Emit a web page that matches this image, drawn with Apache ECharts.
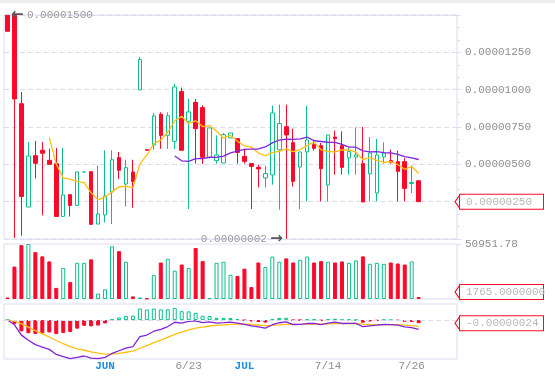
<!DOCTYPE html>
<html>
<head>
<meta charset="utf-8">
<script src="https://cdn.jsdelivr.net/npm/echarts@6/dist/echarts.min.js"></script>
<style>
html,body{margin:0;padding:0;background:#fff;}
#chart{width:555px;height:376px;}
#topbar{position:absolute;left:0;top:0;width:555px;height:3px;background:#ededed;}
</style>
</head>
<body>
<div id="chart"></div>
<div id="topbar"></div>
<script>
// prices are kept in units of 0.00000001
var opens  = [1498,1498,906,214,558,594,527,504,151,297, 225,449,451,100,161,315,545,368,449,998,
              598,630,835,694,654,987,788,915,880,547, 525,509,677,672,553,505,480,409,429,597,
              752,645,482,583,632,625,362,683,625,543, 549,505,436,308,549,525,518,518,372,390];
var closes = [1391,938,285,556,507,574,500,151,295,225, 449,449,98,168,288,531,460,478,386,1202,
              594,824,694,826,1018,594,851,739,547,744, 563,699,710,580,520,486,469,438,844,773,
              697,386,583,663,607,471,697,672,480,585, 563,248,576,563,576,513,453,339,378,250];
var highs  = [1500,1500,985,650,657,650,605,610,610,297, 449,449,451,491,594,594,583,531,531,1219,
              598,844,848,848,1040,1014,938,938,895,744, 694,710,710,672,605,505,498,491,893,900,
              900,739,583,893,665,643,697,726,721,610, 748,750,683,670,647,598,592,543,493,390];
var lows   = [1391,7,22,214,406,158,500,151,151,151, 225,449,98,100,111,100,402,218,210,998,
              594,598,603,603,603,594,201,505,502,540, 505,509,677,505,505,201,346,346,364,196,
              2,352,201,252,592,252,252,431,431,431, 431,248,252,252,505,505,252,252,308,250];
var volumes = [1400,30000,49900,50951.78,43400,39500,34800,10300,28800,15700,
               33500,33500,36700,5000,9000,48800,44300,34500,2400,1400,
               500,22100,33800,37300,26200,31900,28800,47200,35100,800,
               33500,34500,22400,21400,28100,11000,33800,29700,39300,34500,
               37600,33800,36400,39300,33800,35100,34500,33800,34800,33500,
               35700,39500,32600,33500,32600,33800,32900,31900,34800,1765];
var ma7 = [null,null,null,null,null,null,678.7,501.6,409.7,401.1,
           385.9,377.6,309.6,262.1,281.7,315.4,349.0,353.1,344.1,501.9,
           562.7,639.3,662.6,714.9,792.0,821.7,771.6,792.3,752.7,759.9,
           722.3,676.7,693.3,654.6,623.3,614.6,575.3,557.4,578.1,587.1,
           603.9,584.7,598.6,626.3,650.4,597.1,586.3,582.7,596.1,596.4,
           582.1,530.9,545.9,526.7,513.0,517.7,498.9,466.9,485.4,438.9];
var ma25 = [null,null,null,null,null,null,null,null,null,null,
            null,null,null,null,null,null,null,null,null,null,
            null,null,null,null,555.5,523.6,520.1,538.3,537.9,547.4,
            547.0,554.9,577.3,588.7,600.5,602.0,602.8,616.4,643.4,662.8,
            669.4,666.5,670.7,681.8,658.0,653.0,648.0,647.1,633.2,615.9,
            614.7,590.6,584.0,584.7,578.0,576.0,566.1,551.3,543.2,532.4];
var dif = [0,-36.1,-116.1,-155.9,-189.1,-207.7,-225.8,-265.2,-281.6,-296.8,
           -287.5,-276.9,-293.4,-297.4,-287.7,-257.3,-236.3,-215.7,-204.4,-128.1,
           -115.4,-85.8,-72.0,-49.9,-16.6,-24.2,-9.3,-6.5,-19.6,-13.9,
           -23.7,-20.3,-16.5,-23.7,-33.8,-44.1,-53.0,-61.9,-35.7,-20.5,
           -14.4,-34.2,-33.7,-26.5,-25.0,-34.5,-23.4,-16.5,-26.2,-25.1,
           -25.7,-51.1,-44.2,-39.3,-34.0,-34.5,-39.2,-51.6,-57.6,-71.9];
var dea = [0,-7.2,-29.0,-54.4,-81.3,-106.6,-130.4,-157.4,-182.2,-205.1,
           -221.6,-232.6,-244.8,-255.3,-261.8,-260.9,-256.0,-247.9,-239.2,-217.0,
           -196.7,-174.5,-154.0,-133.2,-109.9,-92.7,-76.1,-62.2,-53.6,-45.7,
           -41.3,-37.1,-33.0,-31.1,-31.6,-34.1,-37.9,-42.7,-41.3,-37.1,
           -32.6,-32.9,-33.1,-31.8,-30.4,-31.2,-29.7,-27.0,-26.9,-26.5,
           -26.4,-31.3,-33.9,-34.9,-34.8,-34.7,-35.6,-38.8,-42.6,-48.4];
var macdHist = [0,-28.9,-87.1,-101.5,-107.8,-101.1,-95.3,-107.8,-99.4,-91.7,
                -65.9,-44.2,-48.6,-42.1,-25.9,3.6,19.7,32.3,34.8,88.9,
                81.3,88.7,82.0,83.3,93.3,68.6,66.7,55.6,34.1,31.8,
                17.6,16.8,16.5,7.4,-2.2,-10.0,-15.1,-19.2,5.6,16.7,
                18.2,-1.3,-0.6,5.3,5.4,-3.2,6.3,10.6,0.7,1.4,
                0.6,-19.8,-10.3,-4.3,0.8,0.2,-3.6,-12.8,-15.1,-24.0];
// x tick labels by candle position
var tickLabels = {14:'JUN', 26:'6/23', 34:'JUL', 46:'7/14', 58:'7/26'};
var monthLabels = ['JUN', 'JUL'];
var SLOTS = 65; // 60 candles + empty room on the right

var GREEN = '#0cbf8a', RED = '#fa0a2a', GRIDC = '#dcdcf0', TXT = '#8e8e8e';
var YELLOW = '#ffbf10', PURPLE = '#8224d8';
var MONO = '"Liberation Mono","DejaVu Sans Mono",monospace';
var NOLINE = 'rgba(0,0,0,0)';

function price(v){ return (v * 1e-8).toFixed(8); }

var categories = [];
for (var i = 0; i < SLOTS; i++) categories.push(String(i));

// candle direction, also used to colour volume bars
var rising = closes.map(function(c, i){
	if (c !== opens[i]) return c > opens[i];
	return i === 0 || c >= closes[i-1];
});

var candles = opens.map(function(o, i){ return [o, closes[i], lows[i], highs[i]]; });

var volData = volumes.map(function(v, i){
	var up = rising[i];
	return {value: v, itemStyle: {color: up ? '#fff' : RED, borderColor: up ? GREEN : RED, borderWidth: 1}};
});
var histData = macdHist.map(function(v){
	var up = v >= 0;
	return {value: v, itemStyle: {color: up ? '#fff' : RED, borderColor: up ? GREEN : RED, borderWidth: 1}};
});

var volMax = Math.max.apply(null, volumes);

// red bordered "last value" tag on the right axis
function tag(fmt, dy){
	return {
		show: true, position: 'end', distance: 3, offset: [0, dy || 0],
		formatter: fmt,
		color: '#b8b8b8', fontFamily: MONO, fontSize: 11, lineHeight: 12,
		backgroundColor: '#fff', borderColor: RED, borderWidth: 1,
		padding: [1, 6, 1, 6], width: 71
	};
}
// little pointed end on the left of the tag
function notch(val, dy){
	return {
		coord: [String(SLOTS - 1), val],
		symbol: 'path://M5,0 L0,7 L5,14 Z', symbolSize: [5, 14], symbolOffset: [4, dy || 0],
		itemStyle: {color: '#fff', borderColor: RED, borderWidth: 1},
		label: {show: false}
	};
}

var grids = [
	{left: 4, right: 98, top: 15, height: 224},
	{left: 4, right: 98, top: 244, height: 55},
	{left: 4, right: 98, top: 304, height: 55}
].map(function(g){ g.show = true; g.borderColor = GRIDC; g.borderWidth = 1; return g; });

var xAxes = [0, 1, 2].map(function(g){
	return {
		type: 'category', gridIndex: g, data: categories, boundaryGap: true,
		axisLine: {show: false}, axisTick: {show: false}, splitLine: {show: false},
		axisLabel: {
			show: g === 2, margin: 2, fontFamily: MONO, fontSize: 11,
			interval: function(idx){ return tickLabels[idx] !== undefined; },
			formatter: function(val, idx){
				var t = tickLabels[idx];
				if (t === undefined) return '';
				return monthLabels.indexOf(t) >= 0 ? '{m|' + t + '}' : '{d|' + t + '}';
			},
			rich: {
				m: {color: '#1e8ee8', fontWeight: 'bold', fontFamily: MONO, fontSize: 11},
				d: {color: TXT, fontFamily: MONO, fontSize: 11}
			}
		}
	};
});

var yAxes = [
	{
		gridIndex: 0, position: 'right', min: 0, max: 1500, interval: 250,
		axisLine: {show: false},
		axisTick: {show: true, length: 4, lineStyle: {color: GRIDC}},
		minorTick: {show: true, splitNumber: 3, length: 3, lineStyle: {color: GRIDC}},
		splitLine: {show: true, lineStyle: {color: GRIDC, type: [5, 3]}},
		axisLabel: {
			margin: 8, color: TXT, fontFamily: MONO, fontSize: 11,
			formatter: function(v){ return (v === 0 || v === 250 || v === 1500) ? '' : price(v); }
		}
	},
	{
		gridIndex: 1, position: 'right', min: 0, max: volMax, interval: volMax,
		axisLine: {show: false}, splitLine: {show: false},
		axisTick: {show: true, length: 4, lineStyle: {color: GRIDC}},
		axisLabel: {
			margin: 8, color: TXT, fontFamily: MONO, fontSize: 11, showMinLabel: false,
			formatter: function(v){ return v === 0 ? '' : v.toFixed(2); }
		}
	},
	{
		gridIndex: 2, position: 'right', min: -300, max: 124,
		axisLine: {show: false}, splitLine: {show: false}, axisTick: {show: false},
		axisLabel: {show: false}
	}
];

var last = closes.length - 1;

var option = {
	animation: false,
	backgroundColor: '#fff',
	grid: grids,
	xAxis: xAxes,
	yAxis: yAxes,
	series: [
		{
			type: 'candlestick', xAxisIndex: 0, yAxisIndex: 0, data: candles,
			barWidth: 4,
			itemStyle: {color: '#fff', color0: RED, borderColor: GREEN, borderColor0: RED, borderWidth: 1},
			markPoint: {
				symbol: 'circle', symbolSize: 1, itemStyle: {color: 'transparent'},
				data: [
					{type: 'max', valueDim: 'highest', label: {
						position: 'right', distance: 3,
						formatter: function(p){ return '{a|\u2190} {b|' + price(p.value) + '}'; }
					}},
					{type: 'min', valueDim: 'lowest', label: {
						position: 'left', distance: 3,
						formatter: function(p){ return '{b|' + price(p.value) + '} {a|\u2192}'; }
					}},
					notch(closes[last])
				],
				label: {
					rich: {
						a: {color: '#555', fontSize: 15, fontWeight: 'bold', fontFamily: 'DejaVu Sans'},
						b: {color: '#9a9a9a', fontFamily: MONO, fontSize: 11}
					}
				}
			},
			markLine: {
				silent: true, symbol: ['none', 'none'],
				lineStyle: {color: NOLINE, width: 1},
				label: tag(function(p){ return price(p.value); }),
				data: [{yAxis: closes[last]}]
			}
		},
		{type: 'line', xAxisIndex: 0, yAxisIndex: 0, data: ma7, showSymbol: false,
		 lineStyle: {color: YELLOW, width: 1.3}, z: 3},
		{type: 'line', xAxisIndex: 0, yAxisIndex: 0, data: ma25, showSymbol: false,
		 lineStyle: {color: PURPLE, width: 1.3}, z: 3},
		{
			type: 'bar', xAxisIndex: 1, yAxisIndex: 1, data: volData, barWidth: 4,
			markPoint: {data: [notch(volumes[last], -5)]},
			markLine: {
				silent: true, symbol: ['none', 'none'], lineStyle: {color: NOLINE, width: 1},
				label: tag(function(p){ return p.value.toFixed(7); }, -5),
				data: [{yAxis: volumes[last]}]
			}
		},
		{
			type: 'bar', xAxisIndex: 2, yAxisIndex: 2, data: histData, barWidth: 4,
			markPoint: {data: [notch(macdHist[last])]},
			markLine: {
				silent: true, symbol: ['none', 'none'],
				label: tag(function(p){ return price(p.value); }),
				data: [
					{yAxis: 0, lineStyle: {color: GRIDC, type: [5, 3], width: 1}, label: {show: false}},
					{yAxis: macdHist[last], lineStyle: {color: NOLINE, width: 1}}
				]
			}
		},
		{type: 'line', xAxisIndex: 2, yAxisIndex: 2, data: dea, showSymbol: false,
		 lineStyle: {color: YELLOW, width: 1.3}, z: 3},
		{type: 'line', xAxisIndex: 2, yAxisIndex: 2, data: dif, showSymbol: false,
		 lineStyle: {color: PURPLE, width: 1.3}, z: 3}
	]
};

var myChart = echarts.init(document.getElementById('chart'));
myChart.setOption(option);
</script>
</body>
</html>
